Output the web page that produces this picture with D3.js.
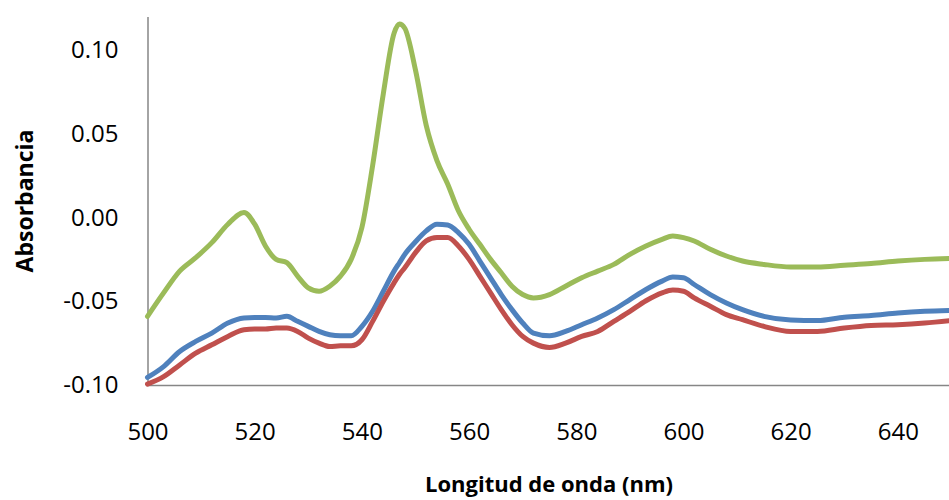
<!DOCTYPE html>
<html>
<head>
<meta charset="utf-8">
<script src="https://cdn.jsdelivr.net/npm/d3@7"></script>
<style>
  body { margin: 0; background: #fff; }
  svg { display: block; }
  .axis path { stroke: #868686; stroke-width: 1.5px; }
  .axis line { display: none; }
  .axis text { font-family: "Open Sans", sans-serif; font-size: 24px; fill: #000; }
  .title { font-family: "Open Sans", sans-serif; font-weight: bold; fill: #000; }
  .line { fill: none; stroke-width: 5px; stroke-linejoin: round; stroke-linecap: round; }
</style>
</head>
<body>
<div id="chart"></div>
<script>
// wavelength grid (nm)
var wavelengths = [500, 503, 506, 509, 512, 515, 518, 520, 522, 524, 526, 528, 530, 532, 534, 536, 538, 540,
    542, 544, 546, 547, 548, 550, 552, 554, 556, 558, 560, 562, 564, 566, 568, 570, 572, 575, 578, 581, 584,
    587, 590, 593, 596, 598, 600, 602, 605, 608, 611, 615, 620, 625, 630, 635, 640, 645, 650];

var blueValues = [-0.0955, -0.089, -0.080, -0.074, -0.069, -0.063, -0.060, -0.0597, -0.0597, -0.060, -0.059,
    -0.062, -0.065, -0.068, -0.070, -0.0706, -0.0706, -0.065, -0.056, -0.044, -0.032, -0.027, -0.022, -0.0145,
    -0.008, -0.004, -0.0045, -0.009, -0.016, -0.026, -0.036, -0.046, -0.055, -0.063, -0.069, -0.0706, -0.068,
    -0.064, -0.060, -0.055, -0.049, -0.043, -0.038, -0.0355, -0.036, -0.040, -0.046, -0.051, -0.055, -0.059,
    -0.0612, -0.0615, -0.0595, -0.0585, -0.057, -0.056, -0.0555];

var redValues = [-0.0995, -0.095, -0.088, -0.081, -0.076, -0.071, -0.067, -0.0666, -0.0666, -0.066, -0.066,
    -0.068, -0.072, -0.075, -0.077, -0.0766, -0.0766, -0.073, -0.062, -0.050, -0.039, -0.034, -0.030, -0.021,
    -0.014, -0.012, -0.012, -0.017, -0.025, -0.035, -0.045, -0.055, -0.064, -0.071, -0.075, -0.0776, -0.075,
    -0.071, -0.068, -0.062, -0.056, -0.0497, -0.045, -0.0433, -0.044, -0.048, -0.053, -0.058, -0.061, -0.065,
    -0.068, -0.068, -0.066, -0.0645, -0.064, -0.063, -0.0615];

var greenValues = [-0.059, -0.045, -0.032, -0.024, -0.015, -0.004, 0.003, -0.004, -0.017, -0.025, -0.027,
    -0.035, -0.042, -0.044, -0.041, -0.035, -0.025, -0.006, 0.031, 0.074, 0.110, 0.1155, 0.113, 0.088, 0.055,
    0.034, 0.020, 0.004, -0.007, -0.016, -0.025, -0.033, -0.041, -0.046, -0.048, -0.046, -0.041, -0.036,
    -0.032, -0.028, -0.022, -0.017, -0.013, -0.011, -0.012, -0.014, -0.019, -0.023, -0.026, -0.028, -0.0295,
    -0.0295, -0.0285, -0.0275, -0.026, -0.025, -0.0245];

var xTicks = [500, 520, 540, 560, 580, 600, 620, 640];
var yTicks = [-0.10, -0.05, 0.00, 0.05, 0.10];

var seriesList = [
    {name: "blue", values: blueValues, color: "#4F81BD"},
    {name: "red", values: redValues, color: "#C0504D"},
    {name: "green", values: greenValues, color: "#9BBB59"}
];

var width = 949, height = 500;

// plot area, right side runs past the picture edge
var xScale = d3.scaleLinear().domain([500, 650]).range([147.5, 951.5]);
var yScale = d3.scaleLinear().domain([-0.10, 0.12]).range([385, 16.5]);

var svg = d3.select("#chart").append("svg")
    .attr("width", width)
    .attr("height", height);

// Axes
var xAxis = d3.axisBottom(xScale).tickValues(xTicks).tickSize(0).tickSizeOuter(0).tickPadding(38)
    .tickFormat(d3.format("d"));
var yAxis = d3.axisLeft(yScale).tickValues(yTicks).tickSize(0).tickSizeOuter(0).tickPadding(29)
    .tickFormat(d3.format(".2f"));

svg.append("g")
    .attr("class", "x axis")
    .attr("transform", "translate(0," + yScale(-0.10) + ")")
    .call(xAxis);

svg.append("g")
    .attr("class", "y axis")
    .attr("transform", "translate(" + xScale(500) + ",0)")
    .call(yAxis);

// use a plain hyphen-minus like the original
svg.selectAll(".y.axis text").text(function (d) { return d3.format(".2f")(d).replace("\u2212", "-"); });

// Lines
var line = d3.line()
    .x(function (d, i) { return xScale(wavelengths[i]); })
    .y(function (d) { return yScale(d); })
    .curve(d3.curveMonotoneX);

seriesList.forEach(function (s) {
    svg.append("path")
        .datum(s.values)
        .attr("class", "line")
        .attr("d", line)
        .style("stroke", s.color);
});

// Axis titles
svg.append("text")
    .attr("class", "title")
    .attr("x", 549)
    .attr("y", 492)
    .style("font-size", "22px")
    .style("text-anchor", "middle")
    .text("Longitud de onda (nm)");

svg.append("text")
    .attr("class", "title")
    .attr("transform", "translate(33,201) rotate(-90)")
    .style("font-size", "23px")
    .style("text-anchor", "middle")
    .text("Absorbancia");
</script>
</body>
</html>
